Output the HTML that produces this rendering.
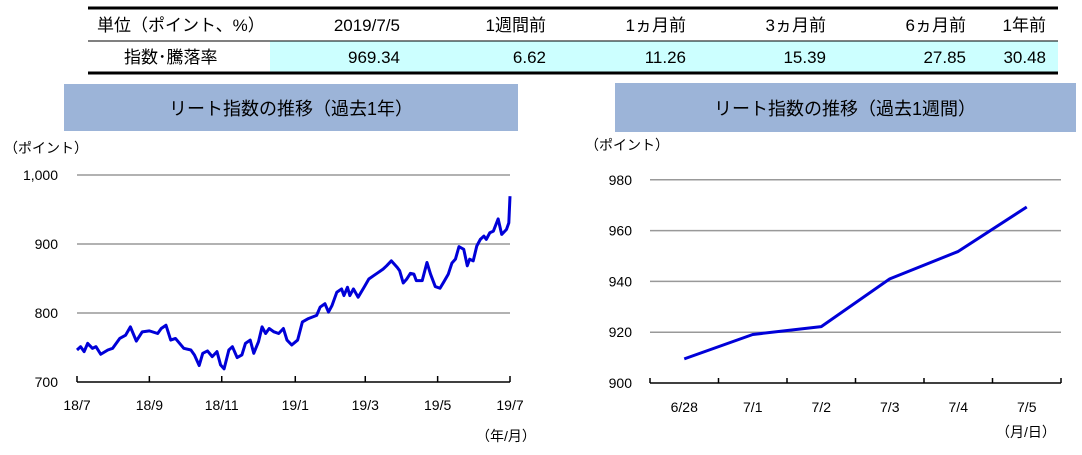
<!DOCTYPE html>
<html><head><meta charset="utf-8">
<style>
body{margin:0;width:1082px;height:450px;background:#fff;overflow:hidden;font-family:"Liberation Sans","Noto Sans CJK JP",sans-serif;}
svg text{font-family:"Liberation Sans","Noto Sans CJK JP",sans-serif;}
</style></head><body>
<svg width="1082" height="450">
<g>
<rect x="270" y="41" width="788" height="32" fill="#ccffff"/>
<line x1="88" y1="8" x2="1058" y2="8" stroke="#000" stroke-width="3"/>
<line x1="88" y1="41" x2="1058" y2="41" stroke="#000" stroke-width="1"/>
<line x1="88" y1="73" x2="1058" y2="73" stroke="#000" stroke-width="3"/>
<g font-size="17" fill="#000">
<text x="97" y="31">単位（ポイント、%）</text>
<text x="400" y="31" text-anchor="end">2019/7/5</text>
<text x="546" y="31" text-anchor="end">1週間前</text>
<text x="686" y="31" text-anchor="end">1ヵ月前</text>
<text x="826" y="31" text-anchor="end">3ヵ月前</text>
<text x="966" y="31" text-anchor="end">6ヵ月前</text>
<text x="1046" y="31" text-anchor="end">1年前</text>
<text x="124" y="63">指数･騰落率</text>
<text x="400" y="63" text-anchor="end">969.34</text>
<text x="546" y="63" text-anchor="end">6.62</text>
<text x="686" y="63" text-anchor="end">11.26</text>
<text x="826" y="63" text-anchor="end">15.39</text>
<text x="966" y="63" text-anchor="end">27.85</text>
<text x="1046" y="63" text-anchor="end">30.48</text>
</g></g>
<rect x="64" y="84" width="454" height="47" fill="#9cb4d8"/>
<text x="291" y="115" font-size="18" text-anchor="middle">リート指数の推移（過去1年）</text>
<rect x="615" y="83" width="461" height="49" fill="#9cb4d8"/>
<text x="845" y="115" font-size="18" text-anchor="middle">リート指数の推移（過去1週間）</text>
<text x="4" y="153" font-size="14">（ポイント）</text>
<text x="585" y="150" font-size="14">（ポイント）</text>
<text x="476" y="441" font-size="14">（年/月）</text>
<text x="996" y="437" font-size="14">（月/日）</text>
<g id="left"></g>
<g id="right"></g>
</svg>
<script>
const leftDays=[0,3,6,9,13,16,20,26,30,36,41,45,50,55,61,68,71,75,79,83,90,96,99,103,106,110,114,118,121,124,128,131,135,139,142,146,149,153,156,159,162,166,170,174,177,181,186,190,195,202,205,209,212,215,219,223,225,228,230,233,237,242,246,250,254,258,261,265,270,272,275,278,281,284,286,291,295,298,302,306,309,313,316,319,322,326,329,331,334,337,340,343,345,348,351,355,358,362,364,365];
const leftValues=[746.4,751.2,744,756,748.8,751.2,740.2,746.4,748.8,763.1,767.9,779.9,759.3,772.7,774.1,770.3,777.5,782.3,760.8,763.1,748.8,746.4,739.2,723.9,741.6,745,736.8,744,724.9,719.1,746.4,751.2,735.4,739.2,756,760.8,741.6,758.4,779.9,770.3,777.5,772.7,770.3,777.5,760.8,753.6,760.8,787.1,791.9,796.6,808.6,813.4,801.4,811,830.1,834.9,825.3,837.3,825.3,834.9,822.9,837.3,849.3,854.1,858.8,863.6,868.4,875.6,866,861.2,843.5,849.3,857.4,856.4,846.9,846.9,873.2,856.4,838.3,835.9,844.5,856.4,872.2,878,896.2,892.3,868.4,878,875.6,897.1,906.7,911.5,906.7,916.3,918.7,936.4,913.9,921,930.6,969.3];
const leftYTicks=[700,800,900,1000];
const leftYLabels=["700","800","900","1,000"];
const leftXTickDays=[0,61,122,184,243,304,365];
const leftXLabels=["18/7","18/9","18/11","19/1","19/3","19/5","19/7"];
const rightCats=["6/28","7/1","7/2","7/3","7/4","7/5"];
const rightValues=[909.5,919.1,922.2,941.0,951.8,969.3];
const rightYTicks=[900,920,940,960,980];
const NS="http://www.w3.org/2000/svg";
function mk(p,t,a){const e=document.createElementNS(NS,t);for(const k in a)e.setAttribute(k,a[k]);p.appendChild(e);return e;}
const L=document.getElementById('left');
const lx=d=>77+d/365*433, ly=v=>382-(v-700)*0.69;
leftYTicks.forEach((v,i)=>{
 if(v>700){const g=mk(L,'line',{x1:77,x2:510,y1:ly(v),y2:ly(v),stroke:'#999','stroke-width':1.5});
 
 }
 const t=mk(L,'text',{x:58,y:ly(v)+5,'font-size':14,'text-anchor':'end'});t.textContent=leftYLabels[i];
 
 
});
mk(L,'line',{x1:77,x2:510,y1:382,y2:382,stroke:'#000','stroke-width':1.5});
leftXTickDays.forEach((d,i)=>{
 mk(L,'line',{x1:lx(d),x2:lx(d),y1:376,y2:382,stroke:'#000','stroke-width':1.5});
 const t=mk(L,'text',{x:lx(d),y:410,'font-size':14,'text-anchor':'middle'});t.textContent=leftXLabels[i];
 
 
});
const lp=mk(L,'polyline',{points:leftDays.map((d,i)=>lx(d)+','+ly(leftValues[i])).join(' '),fill:'none',stroke:'#0000d8','stroke-width':3,'stroke-linejoin':'round'});


const R=document.getElementById('right');
const x0=650,x1=1061,bw=(x1-x0)/rightCats.length;
const rx=i=>x0+bw*(i+0.5), ry=v=>383-(v-900)*2.54;
rightYTicks.forEach(v=>{
 if(v>900){const g=mk(R,'line',{x1:x0,x2:x1,y1:ry(v),y2:ry(v),stroke:'#999','stroke-width':1.5});
 
 }
 const t=mk(R,'text',{x:632,y:ry(v)+5,'font-size':14,'text-anchor':'end'});t.textContent=v;
 
 
});
mk(R,'line',{x1:x0,x2:x1,y1:383,y2:383,stroke:'#000','stroke-width':1.5});
for(let i=0;i<=rightCats.length;i++)mk(R,'line',{x1:x0+bw*i,x2:x0+bw*i,y1:378,y2:383,stroke:'#000','stroke-width':1.5});
rightCats.forEach((c,i)=>{
 const t=mk(R,'text',{x:rx(i),y:412,'font-size':14,'text-anchor':'middle'});t.textContent=c;
 
 
});
const rp=mk(R,'polyline',{points:rightValues.map((v,i)=>rx(i)+','+ry(v)).join(' '),fill:'none',stroke:'#0000d8','stroke-width':3,'stroke-linejoin':'round'});


</script>
</body></html>
